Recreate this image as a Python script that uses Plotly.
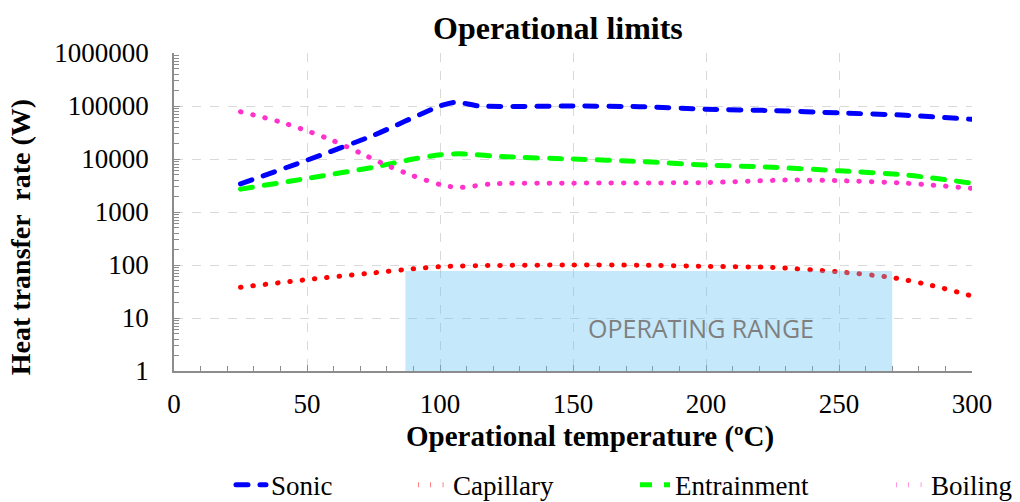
import plotly.graph_objects as go
import math

# ---- data ----
sonic_x = [25, 50, 75, 100, 106, 115, 150, 175, 200, 225, 250, 275, 300]
sonic_y = [3400, 9500, 28000, 100000, 118000, 100000, 100000, 97000, 87000, 82000, 74000, 67000, 56000]

cap_x = [25, 50, 75, 90, 100, 120, 150, 175, 200, 225, 250, 270, 285, 300]
cap_y = [38, 53, 71, 85, 93, 98, 100, 99, 94, 90, 74, 58, 41, 26]

ent_x = [25, 50, 75, 90, 100, 107, 125, 150, 175, 200, 225, 250, 275, 300]
ent_y = [2700, 4300, 7000, 10000, 12000, 12500, 11000, 10000, 9000, 7700, 7000, 6000, 5000, 3500]

boil_x = [25, 40, 50, 60, 70, 80, 90, 100, 107, 120, 150, 200, 230, 250, 275, 300]
boil_y = [78000, 50000, 34000, 22000, 13000, 7600, 4800, 3300, 2900, 3400, 3500, 3600, 4000, 3900, 3500, 2800]

series_names = ["Sonic", "Capillary", "Entrainment", "Boiling"]

y_tickvals = [1, 10, 100, 1000, 10000, 100000, 1000000]
y_ticktext = ["1", "10", "100", "1000", "10000", "100000", "1000000"]
x_tickvals = [0, 50, 100, 150, 200, 250, 300]

range_x = [87, 270]
range_y = [1, 77]
range_label = "OPERATING RANGE"
range_label_pos = (198, 6.6)

SERIF = "Liberation Serif, Times New Roman, serif"

fig = go.Figure()

styles = [
    dict(color="#0000FF", width=5, dash="12px,12px"),
    dict(color="#FF0000", width=5, dash="0.5px,11.9px"),
    dict(color="#00FF00", width=5, dash="12px,12px"),
    dict(color="#FF33CC", width=5, dash="0.5px,11.9px"),
]
xs = [sonic_x, cap_x, ent_x, boil_x]
ys = [sonic_y, cap_y, ent_y, boil_y]
legends = ["legend", "legend2", "legend3", "legend4"]

for name, x, y, st, lg in zip(series_names, xs, ys, styles, legends):
    fig.add_trace(go.Scatter(
        x=x, y=y, name=name, mode="lines",
        line=dict(color=st["color"], width=st["width"], dash=st["dash"],
                  shape="spline", smoothing=0.7),
        legend=lg, hoverinfo="skip",
    ))

fig.add_shape(type="rect", xref="x", yref="y",
              x0=range_x[0], x1=range_x[1], y0=range_y[0], y1=range_y[1],
              fillcolor="rgb(97,195,243)", opacity=0.37, line=dict(width=0),
              layer="above")

fig.add_annotation(x=range_label_pos[0], y=math.log10(range_label_pos[1]),
                   xref="x", yref="y", text=range_label, showarrow=False,
                   font=dict(family="Open Sans, sans-serif", size=25, color="#7f7f7f"))

# axis titles
fig.add_annotation(x=0.521, y=-0.207, xref="paper", yref="paper",
                   text="Operational temperature (ºC)", showarrow=False,
                   xanchor="center", yanchor="middle",
                   font=dict(family=SERIF, size=29, color="black", weight="bold"))
fig.add_annotation(x=-0.192, y=0.42, xref="paper", yref="paper",
                   text="Heat transfer  rate (W)", showarrow=False, textangle=-90,
                   xanchor="center", yanchor="middle",
                   font=dict(family=SERIF, size=28, color="black", weight="bold"))

axis_col = "#8c8c8c"
grid_col = "#d9d9d9"

fig.update_xaxes(
    range=[0, 300], tickmode="array", tickvals=x_tickvals,
    showline=True, linecolor=axis_col, linewidth=1.5,
    ticks="inside", ticklen=6, tickcolor=axis_col, tickwidth=1.3,
    showgrid=True, gridcolor=grid_col, griddash="dash", gridwidth=1.3,
    zeroline=False, ticklabelstandoff=8,
    tickfont=dict(family=SERIF, size=27, color="black"),
    minor=dict(dtick=10, tick0=0, ticks="inside", ticklen=5, tickcolor=axis_col,
               tickwidth=1.3, showgrid=False),
)
fig.update_yaxes(
    type="log", range=[0, 6], tickmode="array", tickvals=y_tickvals, ticktext=y_ticktext,
    showline=True, linecolor=axis_col, linewidth=1.5,
    ticks="inside", ticklen=6, tickcolor=axis_col, tickwidth=1.3,
    showgrid=True, gridcolor=grid_col, griddash="dash", gridwidth=1.3,
    zeroline=False, ticklabelstandoff=18,
    tickfont=dict(family=SERIF, size=27, color="black"),
    minor=dict(dtick="D1", ticks="inside", ticklen=5, tickcolor=axis_col,
               tickwidth=1.3, showgrid=False),
)

leg_common = dict(orientation="h", yanchor="middle", y=-0.359, xanchor="left",
                  font=dict(family=SERIF, size=27, color="black"),
                  bgcolor="rgba(0,0,0,0)")
fig.update_layout(
    width=1020, height=502, autosize=False,
    margin=dict(l=174, r=48, t=53, b=131, autoexpand=False),
    paper_bgcolor="white", plot_bgcolor="white",
    title=dict(text="Operational limits", x=0.547, xanchor="center",
               y=0.945, yanchor="middle", xref="container", yref="container",
               font=dict(family=SERIF, size=32, color="black", weight="bold")),
    legend=dict(x=0.0714, **leg_common),
    legend2=dict(x=0.2995, **leg_common),
    legend3=dict(x=0.5777, **leg_common),
    legend4=dict(x=0.8985, **leg_common),
    showlegend=True,
)

post = """
document.body.style.margin='0';
document.body.style.padding='0';
var s=document.createElement('style');
s.textContent='body{margin:0;padding:0;} .scatterlayer path.js-line, .legend path.js-line {stroke-linecap:round;}';
document.head.appendChild(s);
"""
fig.write_html("out.html", post_script=post, config={"displayModeBar": False})
